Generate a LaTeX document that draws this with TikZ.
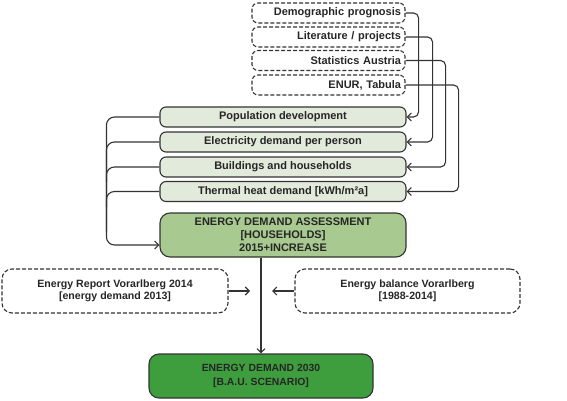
\documentclass[tikz,border=0pt]{standalone}
\usepackage{fontspec}
\setmainfont{Liberation Sans}
\usetikzlibrary{arrows.meta,calc}
\definecolor{edge}{HTML}{333333}
\definecolor{txt}{HTML}{262626}
\definecolor{lightg}{HTML}{E2EADB}
\definecolor{midg}{HTML}{A8C98F}
\definecolor{darkg}{HTML}{3E9E3E}
\tikzset{
  srcbox/.style={draw=edge, line width=1.1pt, dash pattern=on 4pt off 2pt, rounded corners=6pt,
    minimum height=20pt, text width=145pt, align=right, inner xsep=4pt, inner ysep=0pt,
    font=\fontsize{11}{13}\selectfont\bfseries, text=txt},
  factbox/.style={draw=edge, line width=1.1pt, fill=lightg, rounded corners=6pt,
    minimum width=246pt, minimum height=20pt, inner sep=0pt,
    font=\fontsize{11}{13}\selectfont\bfseries, text=txt},
  bigbox/.style={draw=edge, line width=1.1pt, rounded corners=10pt, minimum height=44pt,
    inner sep=0pt, align=center},
  sidebox/.style={bigbox, dash pattern=on 4pt off 2pt, font=\fontsize{10.6}{12.5}\selectfont\bfseries, text=txt},
  arr/.style={draw=edge, line width=1.1pt, -{Straight Barb[length=4pt,width=8pt]}},
  ln/.style={draw=edge, line width=1.1pt}
}
\begin{document}
\begin{tikzpicture}[x=1pt,y=-1pt]
\useasboundingbox (0,0) rectangle (567,401);
% source boxes
\node[srcbox] (demo) at (328.5,13) {Demographic prognosis};
\node[srcbox] (lit) at (328.5,37) {Literature / projects};
\node[srcbox] (stat) at (328.5,60.5) {Statistics Austria};
\node[srcbox] (enur) at (328.5,85) {ENUR, Tabula};
% factor boxes
\node[factbox] (pop) at (283,117) {Population development};
\node[factbox] (elec) at (283,142) {Electricity demand per person};
\node[factbox] (bld) at (283,167) {Buildings and households};
\node[factbox] (therm) at (283,191.5) {Thermal heat demand [kWh/m²a]};
% assessment
\node[bigbox, fill=midg, minimum width=246pt, font=\fontsize{11}{13}\selectfont\bfseries, text=txt] (assess) at (283,235)
  {ENERGY DEMAND ASSESSMENT\\{}[HOUSEHOLDS]\\2015+INCREASE};
% side boxes
\node[sidebox, minimum width=226pt] (rep) at (115,291)
  {Energy Report Vorarlberg 2014\\{}[energy demand 2013]};
\node[sidebox, minimum width=225pt] (bal) at (407.5,291)
  {Energy balance Vorarlberg\\{}[1988-2014]};
% result
\node[bigbox, fill=darkg, minimum width=224pt, font=\fontsize{10.4}{14}\selectfont\bfseries, text=black!85] (res) at (261,376)
  {ENERGY DEMAND 2030\\{}[B.A.U. SCENARIO]};
% right connectors
\draw[arr, rounded corners=5pt] (demo.east) -- ++(13,0) |- (pop.east);
\draw[arr, rounded corners=5pt] (lit.east) -- ++(27,0) |- (elec.east);
\draw[arr, rounded corners=5pt] (stat.east) -- ++(40,0) |- (bld.east);
\draw[arr, rounded corners=5pt] (enur.east) -- ++(53,0) |- (therm.east);
% left connectors
\coordinate (ain) at ($(assess.west)+(0,10)$);
\draw[arr, rounded corners=8pt] (pop.west) -- ++(-53,0) |- (ain);
\draw[ln, rounded corners=8pt] (elec.west) -- ++(-53,0) -- ++(0,40);
\draw[ln, rounded corners=8pt] (bld.west) -- ++(-53,0) -- ++(0,40);
\draw[ln, rounded corners=8pt] (therm.west) -- ++(-53,0) -- ++(0,40);
% vertical
\draw[arr] (assess.south -| res.north) -- (res.north);
\coordinate (la) at (250,291);
\coordinate (ra) at (272,291);
\draw[arr] (rep.east) -- (la);
\draw[arr] (bal.west) -- (ra);
\end{tikzpicture}
\end{document}
